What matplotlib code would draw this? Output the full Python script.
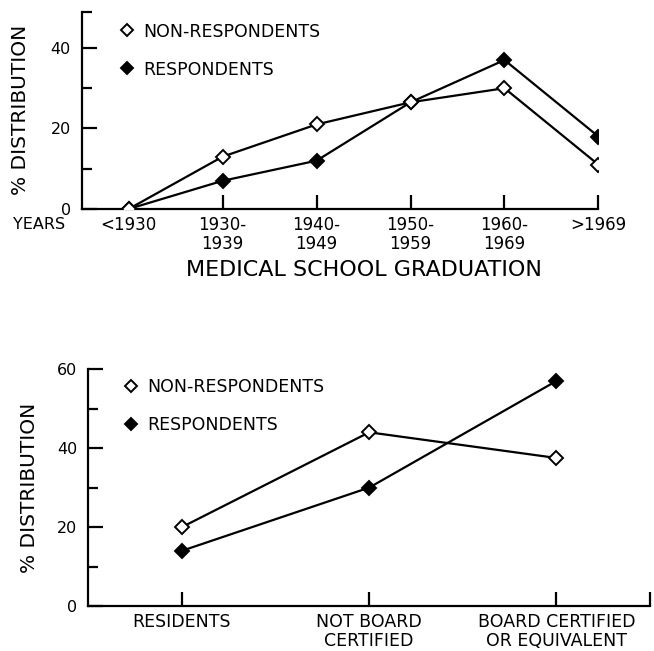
import matplotlib
matplotlib.use("Agg")
import matplotlib.pyplot as plt
from matplotlib.lines import Line2D

# top panel: year of medical school graduation
years = ["<1930", "1930-\n1939", "1940-\n1949", "1950-\n1959", "1960-\n1969", ">1969"]
years_nonresp = [0, 13, 21, 26.5, 30, 11]
years_resp = [0, 7, 12, 26.5, 37, 18]

# bottom panel: certification status
status = ["RESIDENTS", "NOT BOARD\nCERTIFIED", "BOARD CERTIFIED\nOR EQUIVALENT"]
status_nonresp = [20, 44, 37.5]
status_resp = [14, 30, 57]

plt.rcParams['font.family'] = ['DejaVu Sans']
plt.rcParams['font.size'] = 11.5

fig = plt.figure(figsize=(6.54, 6.51), dpi=100)


def style_axes(ax, ymax, minors):
    ax.spines['top'].set_visible(False)
    ax.spines['right'].set_visible(False)
    ax.spines['left'].set_linewidth(1.6)
    ax.spines['bottom'].set_linewidth(1.6)
    ax.set_ylim(0, ymax)
    ax.set_yticks(minors, minor=True)
    ax.tick_params(axis='y', which='major', direction='in', length=11, width=1.6, pad=8,
                   labelsize=11.5)
    ax.tick_params(axis='y', which='minor', direction='in', length=7, width=1.6)
    ax.tick_params(axis='x', which='major', direction='in', length=10, width=1.6, pad=5)


def add_legend(ax, x, y):
    handles = [
        Line2D([], [], ls='none', marker='D', ms=6.5, mfc='white', mec='black', mew=1.4),
        Line2D([], [], ls='none', marker='D', ms=6.5, mfc='black', mec='black', mew=1.4),
    ]
    ax.legend(handles, ['NON-RESPONDENTS', 'RESPONDENTS'], loc='upper left',
              bbox_to_anchor=(x, y), frameon=False, borderpad=0, borderaxespad=0,
              handlelength=1.0, handletextpad=0.45, labelspacing=1.15, fontsize=12.5)


# ---- top chart
ax1 = fig.add_axes([0.125, 0.679, 0.790, 0.303])
xs = list(range(len(years)))
ax1.plot(xs, years_nonresp, color='black', lw=1.6, marker='D', ms=7,
         mfc='white', mec='black', mew=1.4, zorder=3)
ax1.plot(xs, years_resp, color='black', lw=1.6, marker='D', ms=7,
         mfc='black', mec='black', mew=1.4, zorder=2)
ax1.set_xlim(-0.5, len(years) - 1)
style_axes(ax1, 49, [10, 30, 49])
ax1.set_yticks([0, 20, 40])
ax1.set_xticks(xs)
ax1.set_xticklabels(years, va='top', linespacing=1.1, fontsize=12)
ax1.get_xticklines()[0].set_visible(False)
ax1.set_ylabel('% DISTRIBUTION', fontsize=14.5, labelpad=15)
add_legend(ax1, 0.071, 0.945)
fig.text(0.02, 0.655, 'YEARS', fontsize=11.5, va='center', ha='left')
fig.text(0.557, 0.585, 'MEDICAL SCHOOL GRADUATION', fontsize=16, ha='center', va='center')

# ---- bottom chart
ax2 = fig.add_axes([0.135, 0.069, 0.859, 0.364])
xs2 = list(range(len(status)))
ax2.plot(xs2, status_nonresp, color='black', lw=1.6, marker='D', ms=7,
         mfc='white', mec='black', mew=1.4, zorder=3)
ax2.plot(xs2, status_resp, color='black', lw=1.6, marker='D', ms=7,
         mfc='black', mec='black', mew=1.4, zorder=2)
ax2.set_xlim(-0.5, len(status) - 0.5)
style_axes(ax2, 60, [10, 30, 50])
ax2.set_yticks([0, 20, 40, 60])
ax2.set_xticks(xs2 + [len(status) - 0.5])
ax2.set_xticklabels(status + [''], va='top', linespacing=1.1, fontsize=12.5)
ax2.set_ylabel('% DISTRIBUTION', fontsize=14.5, labelpad=13)
add_legend(ax2, 0.061, 0.962)

fig.savefig('out.png', dpi=100)
